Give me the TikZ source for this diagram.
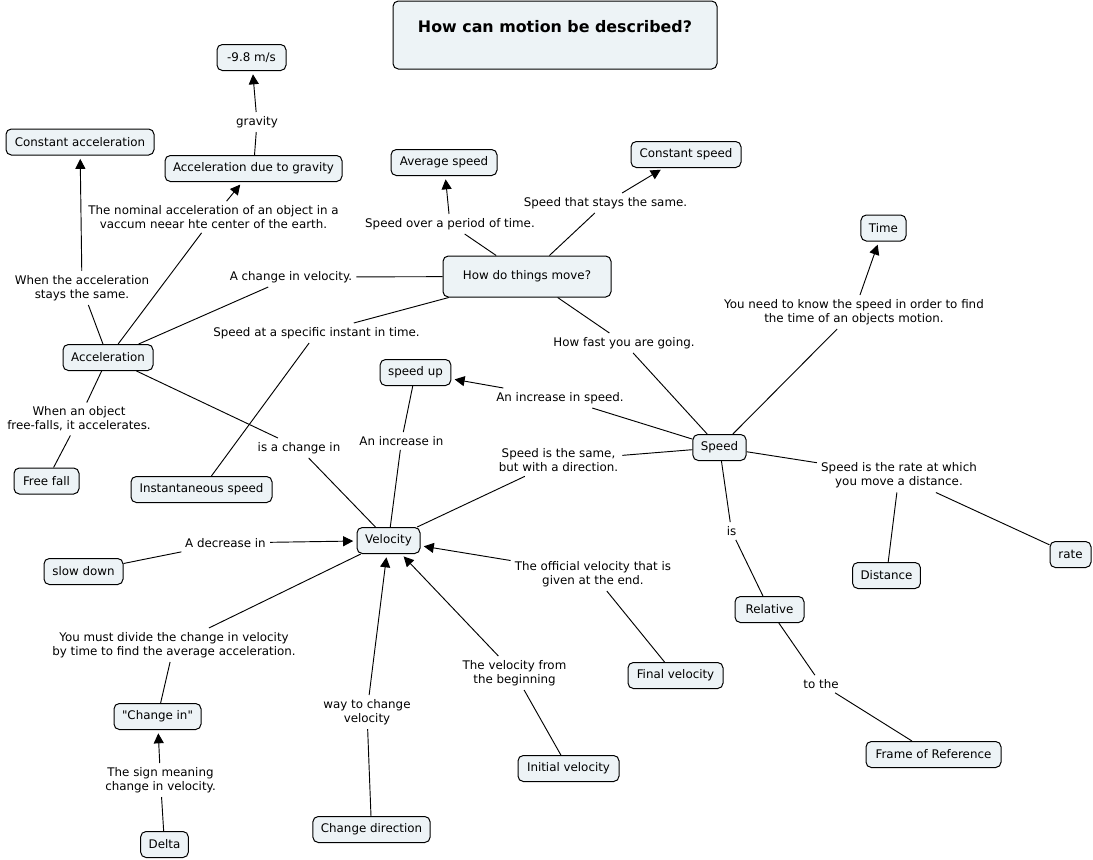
\documentclass[tikz,border=0pt]{standalone}
\usepackage{fontspec}
\setmainfont{DejaVu Sans}
\usetikzlibrary{arrows.meta}
\definecolor{boxfill}{RGB}{237,243,246}
\newcommand{\straightquote}{\XeTeXglyph\XeTeXcharglyph"22\relax}
\begin{document}
\begin{tikzpicture}[x=0.75pt,y=-0.75pt,
  every node/.style={font=\fontsize{8.9}{10.5}\selectfont},
  cbox/.style={draw=black, fill=boxfill, rounded corners=4pt, line width=0.75pt, minimum height=19.5pt, inner xsep=6pt, inner ysep=2pt},
  mw/.style={minimum width=#1*0.75pt},
  lbl/.style={align=center, inner sep=3pt},
  ln/.style={draw=black, line width=0.7pt},
  arr/.style={ln, -{Triangle[length=7.5pt,width=7.5pt]}, shorten >=2.5pt},
]
\useasboundingbox (0,0) rectangle (1093,860);
\fill[white] (0,0) rectangle (1093,860);

% title
\node[cbox, minimum width=324*0.75pt, minimum height=68*0.75pt] (title) at (555,35) {};
\node[font=\fontsize{11.9}{14}\selectfont\bfseries] (titletext) at (555,26.5) {How can motion be described?};

% concepts
\node[cbox, mw=69] (g98) at (251.5,57.5) {-9.8 m/s};
\node[cbox, mw=148] (ca) at (80,142) {Constant acceleration};
\node[cbox, mw=177] (adg) at (253.5,168.5) {Acceleration due to gravity};
\node[cbox, mw=106] (avg) at (444,162.5) {Average speed};
\node[cbox, mw=110] (cs) at (686,154.5) {Constant speed};
\node[cbox, mw=45] (time) at (883.5,228) {Time};
\node[cbox, mw=168, minimum height=41*0.75pt] (how) at (527,276.5) {How do things move?};
\node[cbox, mw=90] (acc) at (108,357.5) {Acceleration};
\node[cbox, mw=69] (su) at (415.5,372.5) {speed up};
\node[cbox, mw=53] (speed) at (719.5,447.5) {Speed};
\node[cbox, mw=65] (ff) at (46.5,481) {Free fall};
\node[cbox, mw=141] (inst) at (201.5,489.5) {Instantaneous speed};
\node[cbox, mw=63] (vel) at (388.5,540.5) {Velocity};
\node[cbox, mw=79] (sd) at (83.5,571.5) {slow down};
\node[cbox, mw=67] (dist) at (886.5,575.5) {Distance};
\node[cbox, mw=41] (rate) at (1070.5,554.5) {rate};
\node[cbox, mw=69] (rel) at (769.5,609.5) {Relative};
\node[cbox, mw=95] (fv) at (675.5,675.5) {Final velocity};
\node[cbox, mw=87] (chg) at (157.5,716.5) {\straightquote Change in\straightquote};
\node[cbox, mw=135] (for) at (933.5,754.5) {Frame of Reference};
\node[cbox, mw=101] (iv) at (568.5,768.5) {Initial velocity};
\node[cbox, mw=117] (cd) at (371.5,829.5) {Change direction};
\node[cbox, mw=47] (delta) at (164.5,844.5) {Delta};

% linking phrases
\node[lbl] (lgrav) at (257,122) {gravity};
\node[lbl] (lnom) at (213.5,217) {The nominal acceleration of an object in a\\vaccum neear hte center of the earth.};
\node[lbl] (lwhen) at (82,288) {When the acceleration\\stays the same.};
\node[lbl] (lchv) at (291,277) {A change in velocity.};
\node[lbl] (lsop) at (450,224) {Speed over a period of time.};
\node[lbl] (lsts) at (605.5,203) {Speed that stays the same.};
\node[lbl] (lsas) at (316.5,333) {Speed at a specific instant in time.};
\node[lbl] (lhf) at (624,343) {How fast you are going.};
\node[lbl] (lneed) at (854,312) {You need to know the speed in order to find\\the time of an objects motion.};
\node[lbl] (lincs) at (560,398) {An increase in speed.};
\node[lbl] (lff) at (79,419) {When an object\\free-falls, it accelerates.};
\node[lbl] (lisch) at (299,448) {is a change in};
\node[lbl] (linc) at (401.5,441) {An increase in};
\node[lbl] (lssd) at (558.5,460.5) {Speed is the same,\\but with a direction.};
\node[lbl] (lrate) at (899,475.5) {Speed is the rate at which\\you move a distance.};
\node[lbl] (lis) at (731.5,531) {is};
\node[lbl] (ldec) at (225.5,543) {A decrease in};
\node[lbl] (loff) at (593,574) {The official velocity that is\\given at the end.};
\node[lbl] (ldiv) at (174,645) {You must divide the change in velocity\\by time to find the average acceleration.};
\node[lbl] (lvfb) at (514.5,673) {The velocity from\\the beginning};
\node[lbl] (lto) at (821,684) {to the};
\node[lbl] (lway) at (367,712) {way to change\\velocity};
\node[lbl] (lsign) at (160.5,780) {The sign meaning\\change in velocity.};

% connectors
\draw[ln] (adg) -- (lgrav); \draw[arr] (lgrav) -- (g98);
\draw[ln] (acc) -- (lnom); \draw[arr] (lnom) -- (adg);
\draw[ln] (acc) -- (lwhen); \draw[arr] (lwhen) -- (ca);
\draw[ln] (how) -- (lchv); \draw[ln] (lchv) -- (acc);
\draw[ln] (how) -- (lsop); \draw[arr] (lsop) -- (avg);
\draw[ln] (how) -- (lsts); \draw[arr] (lsts) -- (cs);
\draw[ln] (how) -- (lsas); \draw[ln] (lsas) -- (inst);
\draw[ln] (how) -- (lhf); \draw[ln] (lhf) -- (speed);
\draw[ln] (speed) -- (lneed); \draw[arr] (lneed) -- (time);
\draw[ln] (speed) -- (lincs); \draw[arr] (lincs) -- (su);
\draw[ln] (speed) -- (lssd); \draw[ln] (lssd) -- (vel);
\draw[ln] (speed) -- (lrate); \draw[ln] (lrate) -- (dist); \draw[ln] (lrate) -- (rate);
\draw[ln] (speed) -- (lis); \draw[ln] (lis) -- (rel);
\draw[ln] (rel) -- (lto); \draw[ln] (lto) -- (for);
\draw[ln] (acc) -- (lff); \draw[ln] (lff) -- (ff);
\draw[ln] (acc) -- (lisch); \draw[ln] (lisch) -- (vel);
\draw[ln] (su) -- (linc); \draw[ln] (linc) -- (vel);
\draw[ln] (sd) -- (ldec); \draw[arr] (ldec) -- (vel);
\draw[ln] (vel) -- (ldiv); \draw[ln] (ldiv) -- (chg);
\draw[ln] (cd) -- (lway); \draw[arr] (lway) -- (vel);
\draw[ln] (iv) -- (lvfb); \draw[arr] (lvfb) -- (vel);
\draw[ln] (fv) -- (loff); \draw[arr] (loff) -- (vel);
\draw[ln] (delta) -- (lsign); \draw[arr] (lsign) -- (chg);
\end{tikzpicture}
\end{document}
